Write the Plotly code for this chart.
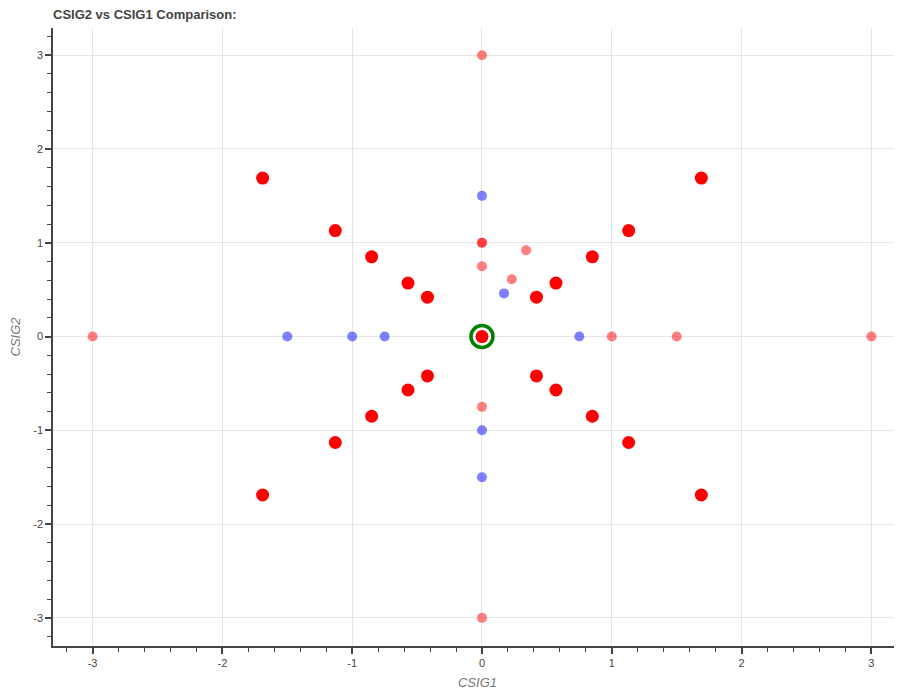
import plotly.graph_objects as go

# Light red (semi-transparent) points
pink_x = [0, 0, -3, 3, 0, 0, 0.34, 0.23, 1.0, 1.5, 0, 0]
pink_y = [3, -3, 0, 0, 1, 1, 0.92, 0.61, 0, 0, 0.75, -0.75]

# Light blue (semi-transparent) points
blue_x = [0, 0, 0, -1.5, -1.0, -0.75, 0.75, 0.17]
blue_y = [1.5, -1.0, -1.5, 0, 0, 0, 0, 0.46]

# Solid red points
red_x = [0.42, 0.57, 0.85, 1.13, 1.69,
         -0.42, -0.57, -0.85, -1.13, -1.69,
         -0.42, -0.57, -0.85, -1.13, -1.69,
         0.42, 0.57, 0.85, 1.13, 1.69, 0]
red_y = [0.42, 0.57, 0.85, 1.13, 1.69,
         0.42, 0.57, 0.85, 1.13, 1.69,
         -0.42, -0.57, -0.85, -1.13, -1.69,
         -0.42, -0.57, -0.85, -1.13, -1.69, 0]

# Highlighted origin
origin_x = [0]
origin_y = [0]

# Tick positions and labels (hyphen minus as in the reference)
tick_vals = [-3, -2, -1, 0, 1, 2, 3]
tick_text = ["-3", "-2", "-1", "0", "1", "2", "3"]

fig = go.Figure()
fig.add_trace(go.Scatter(x=origin_x, y=origin_y, mode="markers",
                         marker=dict(symbol="circle-open", size=22, color="#008000",
                                     line=dict(width=3.5, color="#008000")),
                         hoverinfo="skip"))
fig.add_trace(go.Scatter(x=blue_x, y=blue_y, mode="markers",
                         marker=dict(size=10, color="rgba(0,0,255,0.5)",
                                     line=dict(width=0))))
fig.add_trace(go.Scatter(x=pink_x, y=pink_y, mode="markers",
                         marker=dict(size=10, color="rgba(255,0,0,0.5)",
                                     line=dict(width=0))))
fig.add_trace(go.Scatter(x=red_x, y=red_y, mode="markers",
                         marker=dict(size=13, color="#ff0000",
                                     line=dict(width=0))))

axis_common = dict(
    showgrid=True, gridcolor="#e6e6e6", gridwidth=1,
    zeroline=False, showline=True, linecolor="#444444", linewidth=1.5,
    ticks="outside", ticklen=6, tickwidth=1.5, tickcolor="#444444",
    tickfont=dict(family="Liberation Sans, Arial", size=11, color="#444444"),
    tickmode="array", tickvals=tick_vals, ticktext=tick_text,
    minor=dict(ticks="outside", ticklen=4, tickwidth=1.2, tickcolor="#444444",
               dtick=0.2, tick0=0, showgrid=False),
    mirror=False, automargin=False,
)

fig.update_layout(
    width=894, height=685,
    margin=dict(l=45, r=0, t=20, b=47),
    paper_bgcolor="white", plot_bgcolor="white",
    showlegend=False,
    title=dict(text="<b>CSIG2 vs CSIG1 Comparison:</b>", x=45/894, xanchor="left",
               y=1 - 6/685, yanchor="middle",
               font=dict(family="Liberation Sans, Arial", size=13, color="#444444")),
    xaxis=dict(range=[-3.305, 3.236],
               title=dict(text="<i>CSIG1</i>", standoff=10,
                          font=dict(family="Liberation Sans, Arial", size=13, color="#777777")),
               **axis_common),
    yaxis=dict(range=[-3.30, 3.29],
               title=dict(text="<i>CSIG2</i>", standoff=16,
                          font=dict(family="Liberation Sans, Arial", size=13, color="#777777")),
               **axis_common),
)

fig.write_html("out.html")
